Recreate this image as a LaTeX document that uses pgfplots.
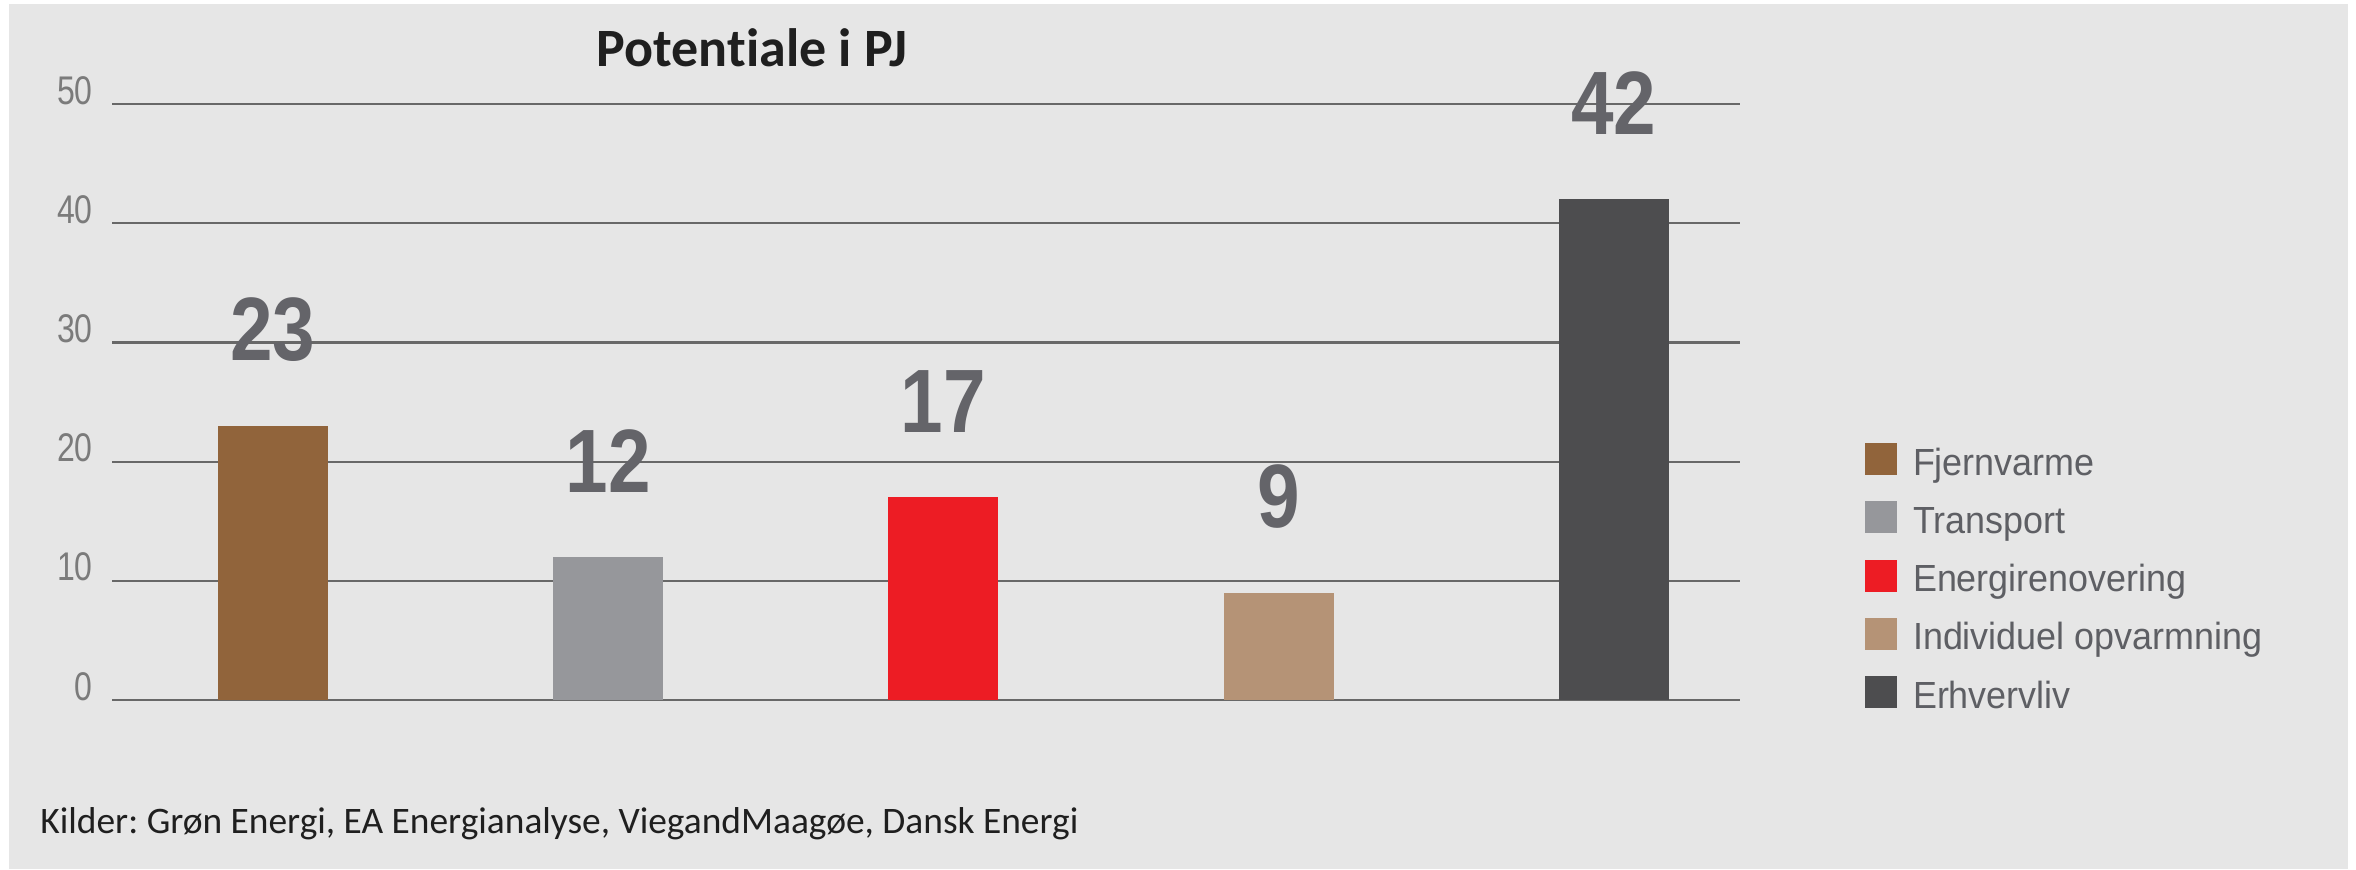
\documentclass[border=0pt]{standalone}
\usepackage{pgfplots}
\pgfplotsset{compat=1.18}
\usepackage{fontspec}
\setmainfont{Liberation Sans}
\newfontfamily\titlefont[Ligatures=NoCommon]{Carlito}
\newfontfamily\tickfont[FakeStretch=0.8]{Liberation Sans}
\newfontfamily\legfont[FakeStretch=0.95]{Liberation Sans}
\newfontfamily\valfont[FakeStretch=0.85]{Liberation Sans}
\definecolor{bg}{HTML}{E6E6E6}
\definecolor{cFjern}{HTML}{91643B}
\definecolor{cTrans}{HTML}{96979B}
\definecolor{cEnerg}{HTML}{ED1C24}
\definecolor{cIndiv}{HTML}{B59376}
\definecolor{cErhv}{HTML}{4D4D4F}
\definecolor{gridc}{HTML}{686868}
\definecolor{tickc}{HTML}{7B7B7B}
\definecolor{legc}{HTML}{5E5F64}
\definecolor{valc}{HTML}{646469}
\frenchspacing
\begin{document}
\begin{tikzpicture}[x=1pt,y=1pt]
\useasboundingbox (0,0) rectangle (1178,434.5);
\fill[white] (0,0) rectangle (1178,434.5);
\fill[bg] (4.5,0) rectangle (1174,432.5);
\begin{axis}[
  at={(56pt,84.5pt)}, anchor=south west,
  scale only axis, width=814pt, height=298pt,
  xmin=-0.480, xmax=4.376, ymin=0, ymax=50,
  axis line style={draw=none},
  ymajorgrids, grid style={gridc, line width=1.1pt},
  ytick={0,10,20,30,40,50}, xtick=\empty,
  major tick length=0pt,
  /pgf/number format/assume math mode=true,
  yticklabel style={font=\tickfont\fontsize{20}{20}\selectfont, text=tickc, anchor=base east, inner sep=0pt, xshift=-9.5pt},
  ybar, bar width=55pt, bar shift=0pt,
  clip=false,
  nodes near coords,
  every node near coord/.append style={font=\valfont\bfseries\fontsize{45}{45}\selectfont, text=valc, anchor=center, yshift=48pt},
  legend image code/.code={\fill[#1, draw=none] (0pt,-8pt) rectangle (16pt,8pt);},
  legend cell align=left,
  legend style={draw=none, fill=none, at={(1.0768,0.4312)}, anchor=north west, inner sep=0pt, outer sep=0pt, row sep=13.15pt, column sep=8pt, font=\legfont\fontsize{18.9}{18.9}\selectfont, text=legc, nodes={inner sep=0pt, text height=16pt, text depth=0pt}},
]
\addplot[fill=cFjern, draw=none] coordinates {(0,23)};
\addlegendentry{Fjernvarme}
\addplot[fill=cTrans, draw=none] coordinates {(1,12)};
\addlegendentry{Transport}
\addplot[fill=cEnerg, draw=none] coordinates {(2,17)};
\addlegendentry{Energirenovering}
\addplot[fill=cIndiv, draw=none] coordinates {(3,9)};
\addlegendentry{Individuel opvarmning}
\addplot[fill=cErhv, draw=none] coordinates {(4,42)};
\addlegendentry{Erhvervliv}
\end{axis}
\node[font=\titlefont\bfseries\fontsize{27}{27}\selectfont, anchor=base, inner sep=0pt, text=black!88] at (376,401) {Potentiale i PJ};
\node[font=\titlefont\fontsize{18.7}{18.7}\selectfont, anchor=base west, inner sep=0pt, text=black!88] at (20,18) {Kilder: Grøn Energi, EA Energianalyse, ViegandMaagøe, Dansk Energi};
\end{tikzpicture}
\end{document}
